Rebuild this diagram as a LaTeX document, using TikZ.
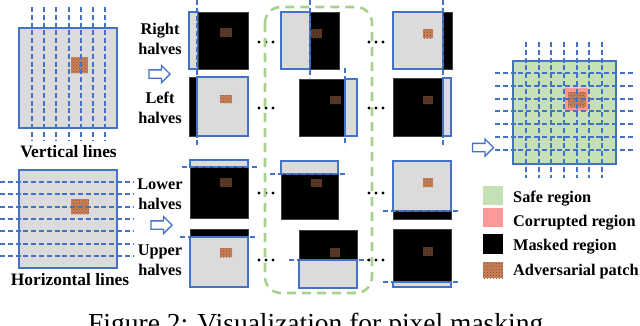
\documentclass[tikz,border=0pt]{standalone}
\usepackage{fontspec}
\setmainfont{Liberation Serif}
\usetikzlibrary{arrows.meta,positioning,calc,shapes.arrows,patterns}
\definecolor{blueC}    {HTML}{4472C4}
\definecolor{keepC}    {HTML}{DBDBDB}
\definecolor{safeC}    {HTML}{C5E0B4}
\definecolor{corruptC} {HTML}{FF9999}
\definecolor{frameC}   {HTML}{A9D18E}
\definecolor{patchC}   {HTML}{C8825A}
\definecolor{patchDotC}{HTML}{8E4A2C}
\definecolor{patchDkC} {HTML}{5E3B28}
\definecolor{patchDkDotC}{HTML}{3A2216}
\tikzset{
  keepPart/.style={fill=keepC,draw=blueC,line width=1.5pt},
  maskPart/.style={fill=black,draw=black!75,line width=0.4pt},
  cutLine/.style={draw=blueC,line width=2pt,dash pattern=on 5pt off 2.8pt},
  patchLight/.style={fill=patchC,postaction={pattern=crosshatch dots,pattern color=patchDotC}},
  patchDark/.style={fill=patchDkC,postaction={pattern=crosshatch dots,pattern color=patchDkDotC}},
  sideLabel/.style={font=\fontsize{16.3}{19.5}\selectfont\bfseries,align=center,inner sep=0pt,anchor=north},
  imgLabel/.style={font=\fontsize{17.4}{20}\selectfont\bfseries,inner sep=0pt,anchor=base},
  legText/.style={font=\fontsize{16.3}{19.5}\selectfont\bfseries,inner sep=0pt,anchor=base west},
  hollowArrow/.style={single arrow,draw=blueC,fill=white,line width=1.3pt,inner sep=3.5pt,
    single arrow head extend=4.5pt,single arrow head indent=0pt,minimum height=21pt},
  skipDots/.style={fill=black},
}
\begin{document}
\begin{tikzpicture}[x=1pt,y=-1pt]
\useasboundingbox (0,0) rectangle (640,325);

% original image, vertical lines
\path[keepPart] (19,28) rectangle (117,128);
\path[patchLight] (71,57) rectangle (88,73);
\foreach \i in {0,...,6}
  \draw[cutLine] ({32+12.17*\i},7) -- ({32+12.17*\i},140);
\node[imgLabel] (vertLbl) at (68.5,157) {Vertical lines};

% original image, horizontal lines
\path[keepPart] (19,170) rectangle (117,268);
\path[patchLight] (71,199) rectangle (89,214);
\foreach \i in {0,...,6}
  \draw[cutLine] (0,{182+12.33*\i}) -- (133,{182+12.33*\i});
\node[imgLabel] (horizLbl) at (70,285) {Horizontal lines};

% side labels and arrows
\node[sideLabel] (rightLbl) at (160,23) {Right\\halves};
\node[hollowArrow] (arrTop) at (157.5,74) {};
\node[sideLabel] (leftLbl) at (160,92) {Left\\halves};
\node[sideLabel] (lowerLbl) at (160,179) {Lower\\halves};
\node[hollowArrow] (arrBot) at (159.5,225) {};
\node[sideLabel] (upperLbl) at (160,245) {Upper\\halves};

% first column
\path[keepPart] (189,12) rectangle (198,69);
\path[maskPart] (198,12) rectangle (248,69);
\path[patchDark] (220,28) rectangle (232,37);
\path[maskPart] (189,77) rectangle (197,136);
\path[keepPart] (197,77) rectangle (248,136);
\path[patchLight] (220,95) rectangle (232,103);
\draw[cutLine] (197,0) -- (197,145);
\path[keepPart] (190,160) rectangle (248,167);
\path[maskPart] (190,167) rectangle (248,218);
\path[patchDark] (220,178) rectangle (232,187);
\draw[cutLine] (182,167) -- (258,167);
\path[maskPart] (190,229) rectangle (248,237);
\path[keepPart] (190,237) rectangle (248,287);
\path[patchLight] (220,248) rectangle (232,257);
\draw[cutLine] (180,237) -- (258,237);

% second column
\path[keepPart] (281,12) rectangle (310,69);
\path[maskPart] (310,12) rectangle (339,69);
\path[patchDark] (311,29) rectangle (322,38);
\draw[cutLine] (310,0) -- (310,78);
\path[maskPart] (299,79) rectangle (345,136);
\path[keepPart] (345,79) rectangle (357,136);
\path[patchDark] (330,96) rectangle (341,104);
\draw[cutLine] (345,68) -- (345,146);
\path[keepPart] (281,161) rectangle (338,174);
\path[maskPart] (281,174) rectangle (338,219);
\path[patchDark] (311,179) rectangle (322,187);
\draw[cutLine] (270,174) -- (348,174);
\path[maskPart] (299,230) rectangle (357,260);
\path[keepPart] (299,260) rectangle (357,288);
\path[patchDark] (330,248) rectangle (340,257);
\draw[cutLine] (289,260) -- (370,260);

% third column
\path[keepPart] (393,12) rectangle (443,69);
\path[maskPart] (443,12) rectangle (452,69);
\path[patchLight] (423,29) rectangle (433,38);
\path[maskPart] (393,78) rectangle (443,136);
\path[keepPart] (443,78) rectangle (451,136);
\path[patchDark] (423,96) rectangle (433,104);
\draw[cutLine] (443,0) -- (443,147);
\path[keepPart] (393,161) rectangle (451,211);
\path[maskPart] (393,211) rectangle (451,219);
\path[patchLight] (423,178) rectangle (433,187);
\draw[cutLine] (383,211) -- (461,211);
\path[maskPart] (393,229) rectangle (451,282);
\path[keepPart] (393,282) rectangle (451,287);
\path[patchDark] (423,247) rectangle (433,256);
\draw[cutLine] (383,282) -- (461,282);

% skipped masks
\foreach \y in {42,108,193,260}
  \foreach \x in {259,266,273,369,376,383}
    \fill[skipDots] (\x,\y) circle (1.6pt);

% highlighted pair of masks
\draw[frameC,line width=2.6pt,dash pattern=on 9pt off 6pt,rounded corners=16pt]
  (265,7) rectangle (372,293);

% result
\node[hollowArrow] (arrFinal) at (481,147.5) {};
\path[fill=safeC,draw=blueC,line width=1.5pt] (513,61) rectangle (616,164);
\fill[corruptC] (565,88) rectangle (588,111);
\path[patchLight] (568,92) rectangle (586,107);
\foreach \i in {0,...,6} {
  \draw[cutLine] ({526+12.67*\i},42) -- ({526+12.67*\i},178);
  \draw[cutLine] (495,{73+12.83*\i}) -- (633,{73+12.83*\i});
}

% legend
\fill[safeC] (483,186) rectangle (503,205);
\node[legText] (legSafe) at (513,202) {Safe region};
\fill[corruptC] (483,208) rectangle (503,227);
\node[legText] (legCorrupt) at (513,226) {Corrupted region};
\fill[black] (483,234) rectangle (503,254);
\node[legText] (legMask) at (513,250) {Masked region};
\path[patchLight] (483,262) rectangle (503,278);
\node[legText] (legPatch) at (513,275) {Adversarial patch};

\node[font=\fontsize{27.5}{30}\selectfont,inner sep=0pt,anchor=base west] (caption) at (88,332)
  {Figure 2: Visualization for pixel masking.};
\end{tikzpicture}
\end{document}
